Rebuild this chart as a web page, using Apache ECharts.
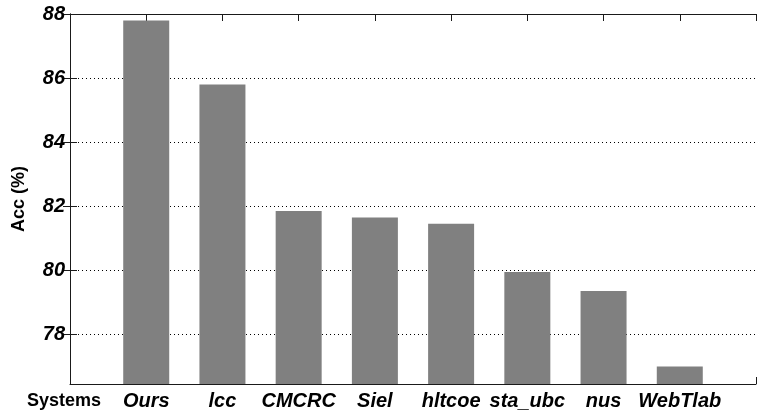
<!DOCTYPE html>
<html>
<head>
<meta charset="utf-8">
<script src="https://cdn.jsdelivr.net/npm/echarts@6/dist/echarts.min.js"></script>
<style>
  html, body { margin: 0; padding: 0; background: #ffffff; }
  #chart { width: 759px; height: 414px; }
</style>
</head>
<body>
<div id="chart"></div>
<script>
// Systems compared and their accuracy (%)
const systems = ['Ours', 'lcc', 'CMCRC', 'Siel', 'hltcoe', 'sta_ubc', 'nus', 'WebTlab'];
const accuracy = [87.8, 85.8, 81.85, 81.65, 81.45, 79.95, 79.35, 77.0];
const yTicks = [78, 80, 82, 84, 86, 88];

const yMin = 76.45;
const yMax = 88;
const axisColor = '#1a1a1a';
const labelFont = '"Liberation Sans", Arial, Helvetica, sans-serif';

// Bars sit at positions 1..N on a 0..N+1 scale
const barData = accuracy.map((v, i) => [i + 1, v]);

const chart = echarts.init(document.getElementById('chart'), null, { renderer: 'canvas' });

const xBase = {
  type: 'value',
  min: 0,
  max: systems.length + 1,
  interval: 1,
  axisLine: { show: true, onZero: false, lineStyle: { color: axisColor, width: 1 } },
  axisTick: { show: true, inside: true, length: 7, lineStyle: { color: axisColor } },
  splitLine: { show: false }
};

const yBase = {
  type: 'value',
  min: yMin,
  max: yMax,
  axisLine: { show: true, lineStyle: { color: axisColor, width: 1 } },
  axisTick: { show: true, inside: true, length: 7, customValues: yTicks, lineStyle: { color: axisColor } }
};

chart.setOption({
  animation: false,
  backgroundColor: '#ffffff',
  grid: { left: 70, top: 14, width: 693, height: 370, containLabel: false },
  xAxis: [
    Object.assign({}, xBase, {
      position: 'bottom',
      axisLabel: {
        show: true,
        margin: 7,
        color: '#000',
        fontFamily: labelFont,
        fontSize: 20,
        fontWeight: 'bold',
        fontStyle: 'italic',
        formatter: v => systems[v - 1] || ''
      }
    }),
    Object.assign({}, xBase, {
      position: 'top',
      axisLabel: { show: false }
    })
  ],
  yAxis: [
    Object.assign({}, yBase, {
      position: 'left',
      axisLabel: {
        show: true,
        customValues: yTicks,
        margin: 5,
        color: '#000',
        fontFamily: labelFont,
        fontSize: 20,
        fontWeight: 'bold',
        fontStyle: 'italic'
      },
      splitLine: {
        show: true,
        customValues: yTicks,
        lineStyle: { color: '#000', width: 1, type: [1, 3] }
      },
      name: 'Acc (%)',
      nameLocation: 'middle',
      nameGap: 42,
      nameRotate: 90,
      nameTextStyle: { color: '#000', fontFamily: labelFont, fontSize: 18, fontWeight: 'bold' }
    }),
    Object.assign({}, yBase, {
      position: 'right',
      axisLabel: { show: false },
      splitLine: { show: false }
    })
  ],
  graphic: [{
    type: 'text',
    left: 27,
    top: 392,
    style: {
      text: 'Systems',
      fill: '#000',
      font: 'bold 18px ' + labelFont
    }
  }],
  series: [{
    type: 'bar',
    xAxisIndex: 0,
    yAxisIndex: 0,
    data: barData,
    barWidth: 46,
    itemStyle: { color: '#808080' }
  }]
});
</script>
</body>
</html>
